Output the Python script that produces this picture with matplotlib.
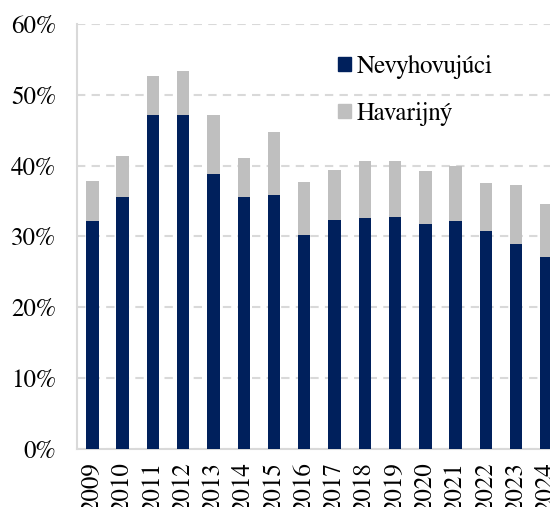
import matplotlib
matplotlib.use("Agg")
import matplotlib.pyplot as plt
from matplotlib.patches import Patch
from matplotlib.ticker import PercentFormatter

years = ["2009", "2010", "2011", "2012", "2013", "2014", "2015", "2016",
         "2017", "2018", "2019", "2020", "2021", "2022", "2023", "2024"]
nevyhovujuci = [32.2, 35.6, 47.1, 47.2, 38.85, 35.6, 35.9, 30.2,
                32.35, 32.6, 32.8, 31.8, 32.2, 30.8, 28.9, 27.05]
total = [37.8, 41.4, 52.65, 53.4, 47.1, 41.1, 44.8, 37.7,
         39.4, 40.7, 40.7, 39.2, 39.9, 37.6, 37.3, 34.6]
havarijny = [t - n for t, n in zip(total, nevyhovujuci)]

navy = "#00205c"
grey = "#bfbfbf"

plt.rcParams["font.family"] = ["FreeSerif", "DejaVu Serif"]

fig = plt.figure(figsize=(5.5, 5.07), dpi=100)
ax = fig.add_axes([0.14, 0.115, 0.86, 0.8377])

x = list(range(len(years)))
ax.bar(x, nevyhovujuci, width=0.41, color=navy, zorder=3)
ax.bar(x, havarijny, bottom=nevyhovujuci, width=0.41, color=grey, zorder=3)

ax.set_ylim(0, 60)
ax.set_xlim(-0.51, 15.12)
ax.set_yticks(range(0, 61, 10))
ax.yaxis.set_major_formatter(PercentFormatter(decimals=0))
ax.set_xticks(x)
ax.set_xticklabels(years, rotation=90)
ax.tick_params(axis="both", length=0, labelsize=18, colors="black")
ax.tick_params(axis="y", pad=15)
ax.tick_params(axis="x", pad=10)

ax.grid(axis="y", color="#d9d9d9", linestyle=(0, (4, 3)), linewidth=1.5, zorder=0)
for s in ["top", "right"]:
    ax.spines[s].set_visible(False)
for s in ["left", "bottom"]:
    ax.spines[s].set_color("#d9d9d9")
    ax.spines[s].set_linewidth(1.5)

handles = [Patch(color=navy, label="Nevyhovujúci"),
           Patch(color=grey, label="Havarijný")]
ax.legend(handles=handles, loc="upper left", bbox_to_anchor=(0.552, 0.928),
          frameon=False, fontsize=18, handlelength=0.5, handleheight=0.5,
          handletextpad=0.25, labelspacing=0.92, borderaxespad=0, borderpad=0)

fig.savefig("out.png", dpi=100)
